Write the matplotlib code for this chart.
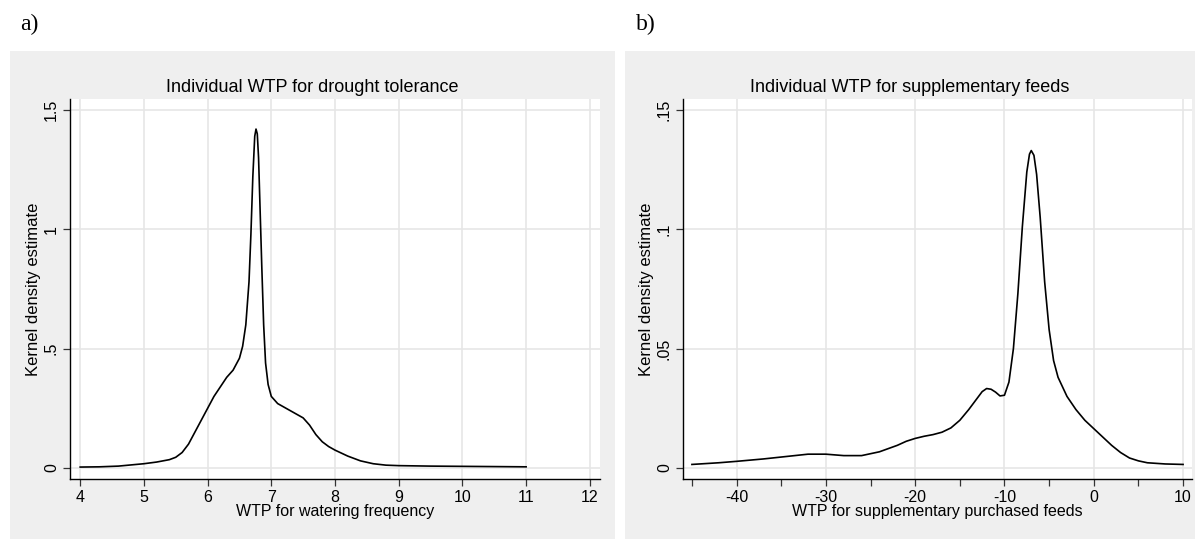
import numpy as np
import matplotlib
matplotlib.use("Agg")
import matplotlib.pyplot as plt
from matplotlib.patches import Rectangle

plt.rcParams['font.family'] = ['Liberation Sans', 'DejaVu Sans']
plt.rcParams['axes.unicode_minus'] = False

# panel a: kernel density of WTP for watering frequency
wtp_a = [4.0, 4.3, 4.6, 5.0, 5.2, 5.4, 5.5, 5.6, 5.7, 5.8, 5.9, 6.0, 6.1, 6.2, 6.3,
         6.4, 6.5, 6.55, 6.6, 6.65, 6.68, 6.71, 6.74, 6.76, 6.78, 6.8, 6.82, 6.85,
         6.88, 6.91, 6.95, 7.0, 7.1, 7.2, 7.3, 7.4, 7.5, 7.6, 7.7, 7.8, 7.9, 8.0,
         8.2, 8.4, 8.6, 8.8, 9.0, 9.5, 10.0, 10.5, 11.0]
dens_a = [0.004, 0.005, 0.008, 0.018, 0.025, 0.035, 0.045, 0.065, 0.10, 0.15, 0.20,
          0.25, 0.30, 0.34, 0.38, 0.41, 0.46, 0.51, 0.60, 0.78, 0.98, 1.22, 1.39,
          1.42, 1.40, 1.30, 1.12, 0.85, 0.60, 0.44, 0.35, 0.30, 0.27, 0.255, 0.24,
          0.225, 0.21, 0.18, 0.14, 0.11, 0.09, 0.075, 0.05, 0.03, 0.018, 0.012,
          0.010, 0.008, 0.007, 0.006, 0.005]

# panel b: kernel density of WTP for supplementary purchased feeds
wtp_b = [-45, -42, -40, -37, -35, -32, -30, -28, -26, -24, -22, -21, -20, -19, -18,
         -17, -16, -15, -14, -13, -12.5, -12, -11.5, -11, -10.5, -10, -9.5, -9,
         -8.5, -8, -7.5, -7.2, -7, -6.7, -6.4, -6, -5.5, -5, -4.5, -4, -3, -2, -1,
         0, 1, 2, 3, 4, 5, 6, 8, 10]
dens_b = [0.0015, 0.0022, 0.0028, 0.0038, 0.0046, 0.0058, 0.0058, 0.0052, 0.0052,
          0.0068, 0.0095, 0.0112, 0.0124, 0.0133, 0.0140, 0.0150, 0.0168, 0.0200,
          0.0245, 0.0295, 0.0320, 0.0333, 0.0330, 0.0318, 0.0302, 0.0305, 0.0360,
          0.0500, 0.0730, 0.1010, 0.1240, 0.1315, 0.1330, 0.1310, 0.1230, 0.1050,
          0.0780, 0.0580, 0.0450, 0.0380, 0.0300, 0.0245, 0.0200, 0.0165, 0.0130,
          0.0095, 0.0065, 0.0042, 0.0030, 0.0022, 0.0017, 0.0015]

W, H = 1195, 539
fig = plt.figure(figsize=(W / 100, H / 100), dpi=100)
fig.patch.set_facecolor('white')

def px_rect(x0, y0, x1, y1):
    """pixel box (top-left origin) -> figure fraction [l, b, w, h]"""
    return [x0 / W, 1 - y1 / H, (x1 - x0) / W, (y1 - y0) / H]

grey = '#efefef'
grid_c = '#e6e6e6'

panels = [
    dict(bg=(10, 51, 615, 539), ax=(70, 99, 600, 479), lab='a)', labx=20,
         title='Individual WTP for drought tolerance',
         x=wtp_a, y=dens_a, xlim=(3.84, 12.16), ylim=(-0.046, 1.546),
         xt=list(range(4, 13)), xminor=[],
         yt=[0, 0.5, 1, 1.5], ytl=['0', '.5', '1', '1.5'],
         xlabel='WTP for watering frequency'),
    dict(bg=(625, 51, 1195, 539), ax=(683, 99, 1192, 479), lab='b)', labx=636,
         title='Individual WTP for supplementary feeds',
         x=wtp_b, y=dens_b, xlim=(-46.0, 11.0), ylim=(-0.0046, 0.1546),
         xt=[-40, -30, -20, -10, 0, 10], xminor=[-45, -35, -25, -15, -5, 5],
         yt=[0, 0.05, 0.1, 0.15], ytl=['0', '.05', '.1', '.15'],
         xlabel='WTP for supplementary purchased feeds'),
]

for p in panels:
    x0, y0, x1, y1 = p['bg']
    fig.patches.append(Rectangle((x0 / W, 1 - y1 / H), (x1 - x0) / W, (y1 - y0) / H,
                                 transform=fig.transFigure, facecolor=grey,
                                 edgecolor='none', zorder=-5))
    fig.text(p['labx'] / W, 1 - 30 / H, p['lab'], family='Liberation Serif',
             fontsize=17, va='baseline', ha='left')
    fig.text((x0 + x1) / 2 / W, 1 - 88 / H, p['title'], fontsize=13,
             ha='center', va='center')

    ax = fig.add_axes(px_rect(*p['ax']))
    ax.set_zorder(2)
    ax.set_facecolor('white')
    ax.plot(p['x'], p['y'], color='black', lw=1.2, zorder=3)
    ax.set_xlim(*p['xlim'])
    ax.set_ylim(*p['ylim'])
    ax.set_xticks(p['xt'])
    ax.set_xticks(p['xminor'], minor=True)
    ax.set_yticks(p['yt'])
    ax.set_yticklabels(p['ytl'], rotation=90, va='center')
    for side in ['top', 'right']:
        ax.spines[side].set_visible(False)
    for side in ['left', 'bottom']:
        ax.spines[side].set_color('black')
        ax.spines[side].set_linewidth(1.0)
    ax.grid(True, which='major', color=grid_c, lw=1.2, zorder=0)
    ax.set_axisbelow(True)
    ax.tick_params(which='both', direction='out', length=5, width=0.9,
                   color='#333333', labelsize=11.5, pad=3)
    ax.set_xlabel(p['xlabel'], fontsize=11.5, labelpad=-1)
    ax.set_ylabel('Kernel density estimate', fontsize=12, labelpad=2)

fig.savefig('out.png', dpi=100)
